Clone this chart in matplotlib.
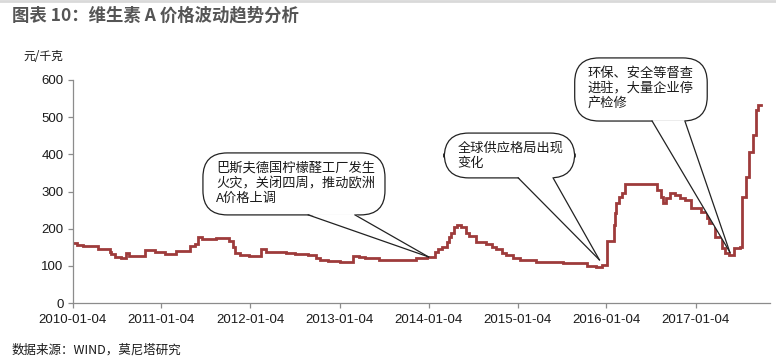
import matplotlib
matplotlib.use("Agg")
import matplotlib.pyplot as plt
import matplotlib.dates as mdates
from matplotlib.patches import FancyBboxPatch, Polygon
import numpy as np
import pandas as pd

plt.rcParams['font.family'] = ['Liberation Sans', 'Noto Sans CJK SC', 'DejaVu Sans']

# ---- data ----
dates = [
    "2010-01-04", "2010-01-22", "2010-02-17", "2010-04-18", "2010-06-05", "2010-06-13",
    "2010-06-27", "2010-07-20", "2010-08-12", "2010-08-25", "2010-10-30", "2010-12-10",
    "2011-01-18", "2011-03-05", "2011-05-01", "2011-05-21", "2011-06-02", "2011-06-18",
    "2011-08-14", "2011-10-10", "2011-10-25", "2011-11-02", "2011-11-22", "2011-12-30",
    "2012-02-15", "2012-03-08", "2012-05-28", "2012-07-07", "2012-08-29", "2012-10-01",
    "2012-10-16", "2012-11-18", "2013-01-04", "2013-02-28", "2013-03-24", "2013-04-20",
    "2013-06-15", "2013-09-05", "2013-11-15", "2013-12-30", "2014-01-18", "2014-01-30",
    "2014-02-10", "2014-03-02", "2014-03-19", "2014-03-28", "2014-04-07", "2014-04-20",
    "2014-05-02", "2014-05-18", "2014-06-05", "2014-06-20", "2014-07-17", "2014-08-29",
    "2014-09-20", "2014-10-09", "2014-11-01", "2014-11-19", "2014-12-15", "2015-01-14",
    "2015-03-22", "2015-07-08", "2015-10-15", "2015-11-20", "2015-12-16", "2016-01-06",
    "2016-02-02", "2016-02-10", "2016-02-14", "2016-02-26", "2016-03-09", "2016-03-18",
    "2016-07-17", "2016-07-28", "2016-08-13", "2016-08-21", "2016-09-06", "2016-09-22",
    "2016-10-12", "2016-11-01", "2016-11-22", "2016-12-17", "2017-01-26", "2017-02-19",
    "2017-02-27", "2017-03-26", "2017-04-20", "2017-05-05", "2017-05-19", "2017-06-10",
    "2017-07-04", "2017-07-12", "2017-07-28", "2017-08-09", "2017-08-29", "2017-09-09",
    "2017-09-17", "2017-09-29",
]
prices = [
    162, 156, 153, 146, 137, 131,
    125, 122, 134, 127, 143, 138,
    133, 140, 153, 160, 177, 171,
    174, 167, 150, 134, 129, 126,
    144, 138, 134, 131, 129, 121,
    117, 114, 109, 126, 125, 120,
    116, 117, 120, 123, 125, 138,
    145, 151, 165, 177, 187, 205,
    210, 204, 189, 180, 163, 158,
    150, 144, 135, 129, 120, 116,
    109, 107, 100, 98, 102, 168,
    210, 241, 268, 286, 297, 320,
    320, 304, 286, 268, 282, 297,
    291, 283, 277, 255, 246, 228,
    214, 178, 147, 135, 129, 147,
    151, 286, 340, 407, 452, 519,
    532, 532,
]
xtick_labels = ["2010-01-04", "2011-01-04", "2012-01-04", "2013-01-04",
                "2014-01-04", "2015-01-04", "2016-01-04", "2017-01-04"]
yticks = [0, 100, 200, 300, 400, 500, 600]

notes = [
    "巴斯夫德国柠檬醛工厂发生\n火灾，关闭四周，推动欧洲\nA价格上调",
    "全球供应格局出现\n变化",
    "环保、安全等督查\n进驻，大量企业停\n产检修",
]
note_tip_dates = ["2014-01-04", "2015-12-06", "2017-05-24"]
note_tip_values = [124, 116, 137]

# ---- figure ----
W, H = 776, 364
fig = plt.figure(figsize=(W / 100, H / 100), dpi=100)
ax = fig.add_axes([72.5 / W, (H - 303) / H, (770 - 72.5) / W, (303 - 80) / H])

x = pd.to_datetime(dates)
ax.plot(x, prices, drawstyle="steps-post", color="#9E3B3B", lw=2.0, solid_joinstyle="miter")

ax.set_ylim(0, 600)
ax.set_yticks(yticks)
ax.set_yticklabels([str(v) for v in yticks])
ax.set_xlim(pd.Timestamp("2010-01-04"), pd.Timestamp("2017-11-05"))
ax.set_xticks(pd.to_datetime(xtick_labels))
ax.set_xticklabels(xtick_labels)

for s in ["top", "right"]:
    ax.spines[s].set_visible(False)
for s in ["left", "bottom"]:
    ax.spines[s].set_color("#8c8c8c")
    ax.spines[s].set_linewidth(0.9)
ax.tick_params(axis="both", colors="#8c8c8c", length=3.5, width=0.9, labelsize=9.5,
               labelcolor="#1a1a1a", direction="out")
ax.tick_params(axis="y", pad=3)
ax.tick_params(axis="x", pad=4.5)

# ---- callouts ----
boxes = [  # left, bottom, right, top in axes fraction; pointer base x-coords
    (0.187, 0.395, 0.448, 0.673, 0.338, 0.405),
    (0.533, 0.561, 0.720, 0.762, 0.639, 0.689),
    (0.720, 0.816, 0.910, 1.099, 0.831, 0.878),
]
for (l, b, r, t, p1, p2), txt, td, tv in zip(boxes, notes, note_tip_dates, note_tip_values):
    box = FancyBboxPatch((l, b), r - l, t - b,
                         boxstyle="round,pad=0,rounding_size=0.035",
                         transform=ax.transAxes, facecolor="white", edgecolor="#222222",
                         lw=0.9, clip_on=False, zorder=5, mutation_aspect=697.5 / 223 / 1.0)
    ax.add_patch(box)
    tip_disp = ax.transData.transform((mdates.date2num(pd.Timestamp(td)), tv))
    tip = ax.transAxes.inverted().transform(tip_disp)
    tri = Polygon([(p1, b + 0.004), (p2, b + 0.004), tuple(tip)], closed=True,
                  transform=ax.transAxes, facecolor="white", edgecolor="none",
                  clip_on=False, zorder=6)
    ax.add_patch(tri)
    for px in (p1, p2):
        ax.plot([px, tip[0]], [b, tip[1]], transform=ax.transAxes, color="#222222",
                lw=0.9, clip_on=False, zorder=7)
    ax.text(l + 13 / 697.5, t - 9 / 223, txt, transform=ax.transAxes, ha="left", va="top",
            fontsize=9.5, color="#1a1a1a", linespacing=1.2, zorder=8,
            family=["Noto Sans CJK SC", "Liberation Sans"])

# ---- texts ----
fig.add_artist(plt.Line2D([0, 1], [1 - 1 / H, 1 - 1 / H], transform=fig.transFigure,
                          color="#d9d9d9", lw=2))
fig.text(12 / W, 1 - 15 / H, "图表 10：维生素 A 价格波动趋势分析", ha="left", va="center",
         fontsize=12.5, fontweight="bold", color="#555555",
         family=["Noto Sans CJK SC", "Liberation Sans"])
fig.text(23 / W, 1 - 57 / H, "元/千克", ha="left", va="center", fontsize=8.5,
         color="#1a1a1a", family=["Noto Sans CJK SC", "Liberation Sans"])
fig.text(12 / W, 1 - 350 / H, "数据来源：WIND，莫尼塔研究", ha="left", va="center",
         fontsize=9, color="#1a1a1a", family=["Noto Sans CJK SC", "Liberation Sans"])

fig.savefig("out.png", dpi=100)
